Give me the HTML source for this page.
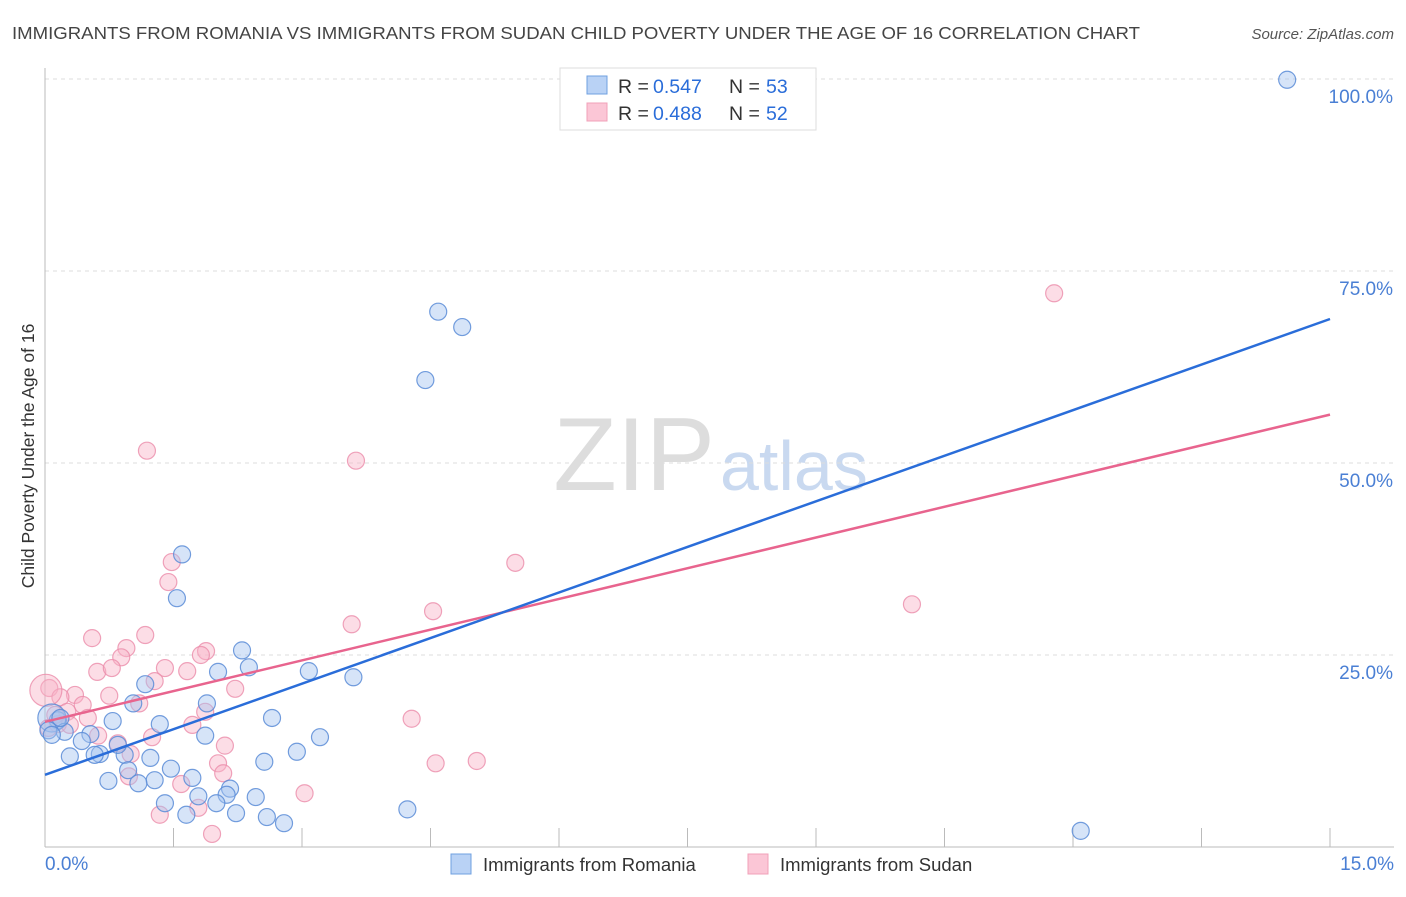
<!DOCTYPE html>
<html><head><meta charset="utf-8"><style>
body{margin:0;background:#fff;font-family:"Liberation Sans",sans-serif;}
svg text{font-family:"Liberation Sans",sans-serif;}
</style></head><body>
<svg id="chart" width="1406" height="892">
<text x="12" y="39" font-size="17.5" fill="#444" textLength="1128" lengthAdjust="spacingAndGlyphs">IMMIGRANTS FROM ROMANIA VS IMMIGRANTS FROM SUDAN CHILD POVERTY UNDER THE AGE OF 16 CORRELATION CHART</text>
<text x="1394" y="39" font-size="15" fill="#555" font-style="italic" text-anchor="end">Source: ZipAtlas.com</text>
<text transform="translate(34,456) rotate(-90)" font-size="17.5" fill="#333" text-anchor="middle">Child Poverty Under the Age of 16</text>
<text x="715" y="490" font-size="104" fill="#ddd" text-anchor="end" font-family="Liberation Serif">ZIP</text>
<text x="720" y="490" font-size="70" fill="#c9d9f0">atlas</text>
<g id="grid"></g><g id="pts"></g><g id="lines"></g>
<g>
<rect x="560" y="68" width="256" height="62" fill="#fff" stroke="#ddd"/>
<rect x="587" y="76" width="20" height="18" fill="#b9d2f5" stroke="#6fa0e0"/>
<rect x="587" y="103" width="20" height="18" fill="#fbc6d6" stroke="#f0a0b8"/>
<text y="93" font-size="19.5" fill="#333"><tspan x="618">R =</tspan><tspan x="653" fill="#2a6dd9">0.547</tspan><tspan x="729">N =</tspan><tspan x="766" fill="#2a6dd9">53</tspan></text>
<text y="120" font-size="19.5" fill="#333"><tspan x="618">R =</tspan><tspan x="653" fill="#2a6dd9">0.488</tspan><tspan x="729">N =</tspan><tspan x="766" fill="#2a6dd9">52</tspan></text>
</g>
<g>
<rect x="451" y="854" width="20" height="20" fill="#b9d2f5" stroke="#6fa0e0"/>
<text x="483" y="871" font-size="18.5" fill="#333">Immigrants from Romania</text>
<rect x="748" y="854" width="20" height="20" fill="#fbc6d6" stroke="#f0a0b8"/>
<text x="780" y="871" font-size="18.5" fill="#333">Immigrants from Sudan</text>
</g>
</svg>
<script>
const yTicks=[25,50,75,100];
const yTickLabels=["25.0%","50.0%","75.0%","100.0%"];
const xLabels=["0.0%","15.0%"];
const romaniaX=[14.50,4.59,4.87,4.44,1.60,1.54,2.30,2.38,2.02,3.08,3.60,1.17,1.89,1.03,0.79,1.34,2.65,0.53,3.21,1.87,0.15,0.08,0.23,0.29,0.43,0.64,0.93,1.23,0.85,2.56,2.94,1.47,0.97,1.28,1.72,0.74,1.09,2.16,2.12,1.79,2.46,2.00,1.40,2.23,1.65,2.59,2.79,4.23,12.09,0.04,0.08,0.58,0.18];
const romaniaY=[99.9,69.7,67.7,60.8,38.1,32.4,25.6,23.4,22.8,22.9,22.1,21.2,18.7,18.7,16.4,16.0,16.8,14.7,14.3,14.5,16.5,16.8,15.0,11.8,13.8,12.1,12.0,11.6,13.3,11.1,12.4,10.2,10.0,8.7,9.0,8.6,8.3,7.6,6.8,6.6,6.5,5.7,5.7,4.4,4.2,3.9,3.1,4.9,2.1,15.2,14.6,12.0,16.8];
const sudanX=[11.78,1.19,3.63,5.49,4.53,1.48,1.44,10.12,3.58,0.55,1.17,0.95,1.88,0.89,1.82,1.40,1.66,0.61,0.78,1.28,2.22,0.05,0.35,0.18,0.75,0.44,1.10,1.87,0.26,0.50,4.28,1.72,0.15,0.62,1.25,0.85,2.10,1.00,2.02,4.56,5.04,2.08,1.59,3.03,0.98,1.34,1.79,1.95,0.04,0.12,0.29,0.01];
const sudanY=[72.1,51.6,50.3,37.0,30.7,37.1,34.5,31.6,29.0,27.2,27.6,25.9,25.5,24.7,25.0,23.3,22.9,22.8,23.3,21.6,20.6,20.7,19.8,19.5,19.7,18.5,18.7,17.6,17.6,16.8,16.7,15.9,16.0,14.5,14.3,13.5,13.2,12.1,10.9,10.9,11.2,9.6,8.2,7.0,9.2,4.2,5.1,1.7,15.5,17.2,15.9,20.4];
const romaniaTrend=[9.4,68.75];
const sudanTrend=[16.3,56.3];
const X0=45,X1=1330,Y0=847,Y100=79;
const sx=v=>X0+(X1-X0)*v/15, sy=v=>Y0-(Y0-Y100)*v/100;
const NS="http://www.w3.org/2000/svg";
function mk(tag,attrs,parent){const e=document.createElementNS(NS,tag);for(const k in attrs)e.setAttribute(k,attrs[k]);document.getElementById(parent).appendChild(e);return e;}
yTicks.forEach((t,i)=>{
 const g=mk('line',{x1:45,x2:1394,y1:sy(t),y2:sy(t),stroke:'#ddd','stroke-dasharray':'4,4'},'grid');
 
 
 const l=mk('text',{x:1393,y:sy(t)+24,'font-size':19,fill:'#4a7fd4','text-anchor':'end'},'grid');
 l.textContent=yTickLabels[i];
 
 
});
const ax=mk('line',{x1:45,x2:45,y1:68,y2:847,stroke:'#bbb'},'grid');


const bx=mk('line',{x1:45,x2:1394,y1:847,y2:847,stroke:'#bbb'},'grid');


for(let k=0;k<=10;k++){const v=k*1.5;
 const tk=mk('line',{x1:sx(v),x2:sx(v),y1:828,y2:847,stroke:'#bbb'},'grid');
 
 }
[[0,'start',45],[15,'end',1394]].forEach((d,i)=>{
 const l=mk('text',{x:d[2],y:870,'font-size':19,fill:'#4a7fd4','text-anchor':d[1]},'grid');
 l.textContent=xLabels[i];
 
 
});
function dots(xs,ys,fill,stroke,name,big,bigR){
 xs.forEach((x,i)=>{
  const r=(big===i)?bigR:8.5;
  const c=mk('circle',{cx:sx(x),cy:sy(ys[i]),r:r,fill:fill,stroke:stroke,'stroke-width':1.2},'pts');
  
  
 });
}
dots(sudanX,sudanY,'rgba(248,180,200,0.45)','rgba(235,140,170,0.8)','sudan-point',51,16);
dots(romaniaX,romaniaY,'rgba(164,196,240,0.45)','rgba(90,140,215,0.85)','romania-point',21,14);
const l1=mk('line',{x1:sx(0),y1:sy(sudanTrend[0]),x2:sx(15),y2:sy(sudanTrend[1]),stroke:'#e8648e','stroke-width':2.5},'lines');


const l2=mk('line',{x1:sx(0),y1:sy(romaniaTrend[0]),x2:sx(15),y2:sy(romaniaTrend[1]),stroke:'#2a6dd9','stroke-width':2.5},'lines');


</script>
</body></html>
